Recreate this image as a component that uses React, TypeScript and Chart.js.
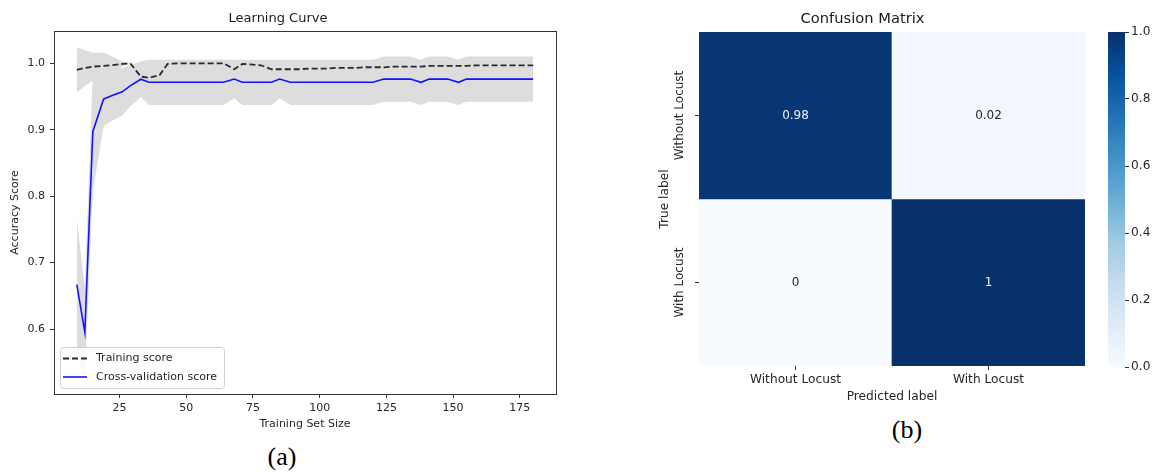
import React, { useEffect, useRef } from "react";
import { Chart, registerables } from "chart.js";

Chart.register(...registerables);

// ---------- Learning curve data ----------
const trainSizes = [9, 12, 15, 19, 22, 26, 29, 33, 36, 40, 43, 47, 50, 54, 57, 61, 64, 68, 71, 75, 78, 82, 85, 89, 92, 96, 99, 103, 106, 110, 113, 117, 120, 124, 127, 131, 134, 138, 141, 145, 148, 152, 155, 159, 162, 166, 169, 173, 176, 180];
const trainMean = [0.990, 0.993, 0.995, 0.996, 0.997, 0.999, 1.000, 0.980, 0.978, 0.982, 0.999, 1.0, 1.0, 1.0, 1.0, 1.0, 1.0, 0.991, 0.999, 0.998, 0.997, 0.991, 0.991, 0.991, 0.991, 0.992, 0.992, 0.992, 0.993, 0.993, 0.993, 0.994, 0.994, 0.994, 0.995, 0.995, 0.995, 0.995, 0.996, 0.996, 0.996, 0.996, 0.996, 0.997, 0.997, 0.997, 0.997, 0.997, 0.997, 0.997];
const trainStd = [0.034, 0.027, 0.021, 0.020, 0.014, 0.004, 0.0, 0.010, 0.012, 0.010, 0.003, 0, 0, 0, 0, 0, 0, 0.012, 0.003, 0.004, 0.005, 0.008, 0.008, 0.008, 0.008, 0.008, 0.008, 0.008, 0.008, 0.008, 0.008, 0.008, 0.008, 0.008, 0.008, 0.008, 0.008, 0.008, 0.008, 0.008, 0.008, 0.008, 0.008, 0.008, 0.008, 0.008, 0.008, 0.008, 0.008, 0.008];
const cvMean = [0.667, 0.595, 0.897, 0.946, 0.951, 0.957, 0.966, 0.976, 0.9714, 0.9714, 0.9714, 0.9714, 0.9714, 0.9714, 0.9714, 0.9714, 0.9714, 0.9762, 0.9714, 0.9714, 0.9714, 0.9714, 0.9762, 0.9714, 0.9714, 0.9714, 0.9714, 0.9714, 0.9714, 0.9714, 0.9714, 0.9714, 0.9714, 0.9762, 0.9762, 0.9762, 0.9762, 0.9714, 0.9762, 0.9762, 0.9762, 0.9714, 0.9762, 0.9762, 0.9762, 0.9762, 0.9762, 0.9762, 0.9762, 0.9762];
const cvStd = [0.100, 0.068, 0.090, 0.041, 0.038, 0.036, 0.031, 0.027, 0.034, 0.034, 0.034, 0.034, 0.034, 0.034, 0.034, 0.034, 0.034, 0.029, 0.034, 0.034, 0.034, 0.034, 0.029, 0.034, 0.034, 0.034, 0.034, 0.034, 0.034, 0.034, 0.034, 0.034, 0.034, 0.034, 0.034, 0.034, 0.034, 0.034, 0.034, 0.034, 0.034, 0.034, 0.034, 0.034, 0.034, 0.034, 0.034, 0.034, 0.034, 0.034];
const lcXTicks = [25, 50, 75, 100, 125, 150, 175];
const lcYTicks = [0.6, 0.7, 0.8, 0.9, 1.0];
const lcXRange = [0.45, 188.55];
const lcYRange = [0.5022, 1.0486];

// ---------- Confusion matrix data ----------
const predLabels = ["Without Locust", "With Locust"];
const trueLabels = ["Without Locust", "With Locust"];
const rowWithout = [0.98, 0.02];
const rowWith = [0, 1];
const cbTicks = [0.0, 0.2, 0.4, 0.6, 0.8, 1.0];

const FONT = "'DejaVu Sans', sans-serif";
const TXT = "#262626";
const AX = "#333333";

const bluesStops: [number, string][] = [
  [0, "#f7fbff"], [0.125, "#deebf7"], [0.25, "#c6dbef"], [0.375, "#9ecae1"],
  [0.5, "#6baed6"], [0.625, "#4292c6"], [0.75, "#2171b5"], [0.875, "#08519c"], [1, "#08306b"],
];
function hexToRgb(h: string) {
  const n = parseInt(h.slice(1), 16);
  return [(n >> 16) & 255, (n >> 8) & 255, n & 255];
}
function blues(v: number) {
  const t = Math.max(0, Math.min(1, v));
  for (let i = 1; i < bluesStops.length; i++) {
    const [t1, c1] = bluesStops[i];
    const [t0, c0] = bluesStops[i - 1];
    if (t <= t1) {
      const f = (t - t0) / (t1 - t0);
      const a = hexToRgb(c0), b = hexToRgb(c1);
      const c = a.map((x, k) => Math.round(x + (b[k] - x) * f));
      return `rgb(${c[0]},${c[1]},${c[2]})`;
    }
  }
  return bluesStops[bluesStops.length - 1][1];
}

const framePlugin = {
  id: "frame",
  afterDraw(chart: any) {
    const { ctx, chartArea: a } = chart;
    ctx.save();
    ctx.strokeStyle = AX;
    ctx.lineWidth = 1;
    ctx.strokeRect(Math.round(a.left) + 0.5, Math.round(a.top) + 0.5, Math.round(a.right - a.left), Math.round(a.bottom - a.top));
    ctx.restore();
  },
};

const legendPlugin = {
  id: "innerLegend",
  afterDraw(chart: any) {
    const { ctx, chartArea: a } = chart;
    const items = chart.data.datasets.slice(0, 2);
    const w = 164, h = 41;
    const x = a.left + 6, y = a.bottom - 6 - h;
    ctx.save();
    ctx.beginPath();
    ctx.roundRect(x + 0.5, y + 0.5, w, h, 3);
    ctx.fillStyle = "rgba(255,255,255,0.85)";
    ctx.fill();
    ctx.strokeStyle = "#d0d0d0";
    ctx.lineWidth = 1;
    ctx.stroke();
    ctx.font = `11px ${FONT}`;
    ctx.textBaseline = "middle";
    ctx.textAlign = "left";
    items.forEach((ds: any, i: number) => {
      const cy = y + 11.5 + i * 18.5;
      ctx.beginPath();
      ctx.strokeStyle = ds.borderColor;
      ctx.lineWidth = ds.borderWidth;
      ctx.setLineDash(ds.borderDash || []);
      ctx.moveTo(x + 3, cy);
      ctx.lineTo(x + 27, cy);
      ctx.stroke();
      ctx.setLineDash([]);
      ctx.fillStyle = TXT;
      ctx.fillText(ds.label, x + 36, cy);
    });
    ctx.restore();
  },
};

const cmPlugin = {
  id: "cmText",
  afterDraw(chart: any) {
    const { ctx } = chart;
    const xs = chart.scales.x, ys = chart.scales.y;
    const matrix = [rowWithout, rowWith];
    ctx.save();
    ctx.font = `12px ${FONT}`;
    ctx.textAlign = "center";
    ctx.textBaseline = "middle";
    matrix.forEach((row, i) => {
      row.forEach((v, j) => {
        ctx.fillStyle = v > 0.5 ? "#eef2f8" : TXT;
        ctx.fillText(String(v), xs.getPixelForValue(j), ys.getPixelForValue(i + 0.5));
      });
    });
    trueLabels.forEach((lab, i) => {
      ctx.save();
      ctx.translate(ys.right - 19, ys.getPixelForValue(i + 0.5));
      ctx.rotate(-Math.PI / 2);
      ctx.fillStyle = TXT;
      ctx.font = `12px ${FONT}`;
      ctx.fillText(lab, 0, 0);
      ctx.restore();
    });
    ctx.restore();
  },
};

export default function App() {
  const lcRef = useRef<HTMLCanvasElement>(null);
  const cmRef = useRef<HTMLCanvasElement>(null);
  const cbRef = useRef<HTMLCanvasElement>(null);

  useEffect(() => {
    const pts = (ys: number[]) => trainSizes.map((x, i) => ({ x, y: ys[i] }));
    const trainUp = trainMean.map((m, i) => m + trainStd[i]);
    const trainLo = trainMean.map((m, i) => m - trainStd[i]);
    const cvUp = cvMean.map((m, i) => m + cvStd[i]);
    const cvLo = cvMean.map((m, i) => m - cvStd[i]);
    const band = (data: number[], fill: any) => ({
      label: "",
      data: pts(data),
      borderColor: "rgba(0,0,0,0)",
      borderWidth: 1,
      backgroundColor: "#DDDDDD",
      pointRadius: 0,
      fill,
      tension: 0,
    });

    const lc = new Chart(lcRef.current!, {
      type: "line",
      data: {
        datasets: [
          { label: "Training score", data: pts(trainMean), borderColor: "#2a2a2a", borderWidth: 1.8, borderDash: [6, 3], pointRadius: 0, fill: false, tension: 0 } as any,
          { label: "Cross-validation score", data: pts(cvMean), borderColor: "#1212ff", borderWidth: 1.6, pointRadius: 0, fill: false, tension: 0 },
          band(trainUp, "+1"),
          band(trainLo, false),
          band(cvUp, "+1"),
          band(cvLo, false),
        ],
      },
      options: {
        responsive: false,
        animation: false,
        layout: { padding: { left: 0, right: 54, top: 0, bottom: 0 } },
        plugins: {
          legend: { display: false },
          tooltip: { enabled: false },
          filler: { propagate: false },
          title: { display: true, text: "Learning Curve", color: "#1a1a1a", font: { family: FONT, size: 13, weight: "normal" }, padding: { top: 11.2, bottom: 4.2 } },
        },
        scales: {
          x: {
            type: "linear",
            min: lcXRange[0],
            max: lcXRange[1],
            afterBuildTicks: (s: any) => { s.ticks = lcXTicks.map((v) => ({ value: v })); },
            afterFit: (s: any) => { s.height = 37; },
            ticks: { color: TXT, font: { family: FONT, size: 11 }, padding: 4, maxRotation: 0, autoSkip: false, callback: (v: any) => String(v) },
            grid: { drawOnChartArea: false, drawTicks: true, tickLength: 4, color: AX },
            border: { display: false },
            title: { display: true, text: "Training Set Size", color: TXT, font: { family: FONT, size: 11 }, padding: { top: 0, bottom: 0 } },
          },
          y: {
            type: "linear",
            min: lcYRange[0],
            max: lcYRange[1],
            afterBuildTicks: (s: any) => { s.ticks = lcYTicks.map((v) => ({ value: v })); },
            afterFit: (s: any) => { s.width = 54; },
            ticks: { color: TXT, font: { family: FONT, size: 11 }, padding: 5, callback: (v: any) => Number(v).toFixed(1) },
            grid: { drawOnChartArea: false, drawTicks: true, tickLength: 4, color: AX },
            border: { display: false },
            title: { display: true, text: "Accuracy Score", color: TXT, font: { family: FONT, size: 11 }, padding: { top: 8.4, bottom: 0 } },
          },
        },
      } as any,
      plugins: [framePlugin, legendPlugin],
    });

    const matrix = [rowWithout, rowWith];
    const cm = new Chart(cmRef.current!, {
      type: "bar",
      data: {
        labels: predLabels,
        datasets: matrix.map((row, i) => ({
          label: trueLabels[i],
          data: row.map(() => [i, i + 1]),
          backgroundColor: row.map((v) => blues(v)),
          borderWidth: 0,
          grouped: false,
          barPercentage: 1,
          categoryPercentage: 1,
        })) as any,
      },
      options: {
        responsive: false,
        animation: false,
        layout: { padding: { left: 0, right: 59, top: 0, bottom: 0 } },
        plugins: {
          legend: { display: false },
          tooltip: { enabled: false },
          title: { display: true, text: "Confusion Matrix", color: "#1a1a1a", font: { family: FONT, size: 14.7, weight: "normal" }, padding: { top: 10.2, bottom: 4.2 } },
        },
        scales: {
          x: {
            type: "category",
            offset: true,
            afterFit: (s: any) => { s.height = 38; },
            ticks: { color: TXT, font: { family: FONT, size: 12.2 }, padding: 3, maxRotation: 0, autoSkip: false },
            grid: { offset: false, drawOnChartArea: false, drawTicks: true, tickLength: 4, color: AX },
            border: { display: false },
            title: { display: true, text: "Predicted label", color: TXT, font: { family: FONT, size: 12.2 }, padding: { top: 0, bottom: 0 } },
          },
          y: {
            type: "linear",
            min: 0,
            max: 2,
            reverse: true,
            afterBuildTicks: (s: any) => { s.ticks = trueLabels.map((_, i) => ({ value: i + 0.5 })); },
            afterFit: (s: any) => { s.width = 59; },
            ticks: { display: false },
            grid: { drawOnChartArea: false, drawTicks: true, tickLength: 4, color: AX },
            border: { display: false },
            title: { display: true, text: "True label", color: TXT, font: { family: FONT, size: 12.2 }, padding: { top: 17.7, bottom: 0 } },
          },
        },
      } as any,
      plugins: [cmPlugin],
    });

    const cb = new Chart(cbRef.current!, {
      type: "bar",
      data: {
        labels: [""],
        datasets: [{
          data: [[cbTicks[0], cbTicks[cbTicks.length - 1]]] as any,
          backgroundColor: (c: any) => {
            const ch = c.chart;
            const a = ch.chartArea;
            if (!a) return blues(0.5);
            const ys = ch.scales.y;
            const g = ch.ctx.createLinearGradient(0, ys.getPixelForValue(0), 0, ys.getPixelForValue(1));
            bluesStops.forEach(([t, col]) => g.addColorStop(t, col));
            return g;
          },
          borderWidth: 0,
          barPercentage: 1,
          categoryPercentage: 1,
        }],
      },
      options: {
        responsive: false,
        animation: false,
        layout: { padding: { left: 8, right: 0, top: 32, bottom: 37 } },
        plugins: { legend: { display: false }, tooltip: { enabled: false } },
        scales: {
          x: { display: false },
          y: {
            position: "right",
            min: 0,
            max: 1,
            afterBuildTicks: (s: any) => { s.ticks = cbTicks.map((v) => ({ value: v })); },
            afterFit: (s: any) => { s.width = 31; },
            ticks: { color: TXT, font: { family: FONT, size: 12.2 }, padding: 2, callback: (v: any) => Number(v).toFixed(1) },
            grid: { drawOnChartArea: false, drawTicks: true, tickLength: 4, color: AX },
            border: { display: false },
          },
        },
      } as any,
    });

    return () => { lc.destroy(); cm.destroy(); cb.destroy(); };
  }, []);

  const serif: React.CSSProperties = { position: "absolute", fontFamily: "'Liberation Serif', serif", fontSize: 26, lineHeight: 1, color: "#000", transform: "translateX(-50%)", whiteSpace: "nowrap" };

  return (
    <div style={{ position: "absolute", left: 0, top: 0, width: 1156, height: 475, background: "#fff", overflow: "hidden" }}>
      <canvas ref={lcRef} width={610} height={431} style={{ position: "absolute", left: 0, top: 0, width: 610, height: 431 }} />
      <canvas ref={cmRef} width={504} height={404} style={{ position: "absolute", left: 640, top: 0, width: 504, height: 404 }} />
      <canvas ref={cbRef} width={56} height={404} style={{ position: "absolute", left: 1100, top: 0, width: 56, height: 404 }} />
      <div style={{ ...serif, left: 282, top: 443.5 }}>(a)</div>
      <div style={{ ...serif, left: 907, top: 416.5 }}>(b)</div>
    </div>
  );
}
